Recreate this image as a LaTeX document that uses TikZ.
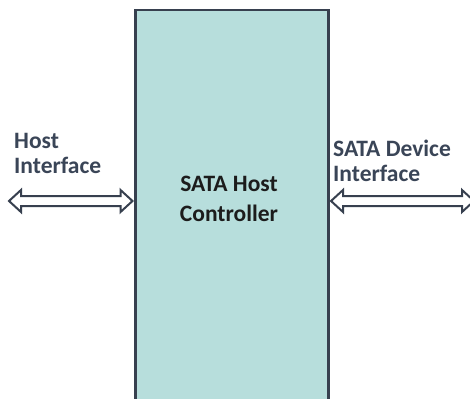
\documentclass[tikz,border=0pt]{standalone}
\usepackage{fontspec}
\setmainfont{Carlito}
\usetikzlibrary{calc}
\definecolor{boxfill}{HTML}{B7DEDC}
\definecolor{edge}{HTML}{37404F}
\definecolor{labeltext}{HTML}{3A4557}
\definecolor{ctrltext}{HTML}{1C1C1C}
\tikzset{
  ctrlbox/.style={draw=edge, line width=2.5pt, fill=boxfill, minimum width=193pt, minimum height=420pt, anchor=north west, inner sep=0pt},
  sidelabel/.style={font=\bfseries\fontsize{23.5}{25}\selectfont, text=labeltext, align=left, anchor=base west, inner sep=0pt},
  ctrllabel/.style={font=\bfseries\fontsize{23.5}{30}\selectfont, text=ctrltext, align=center, anchor=base, inner sep=0pt},
  arrowline/.style={draw=edge, line width=2pt, fill=white, line join=miter}
}
\newcommand\hollowarrow[2]{%
  \path[arrowline] let \p1=(#1), \p2=(#2) in
    (\x1,\y1) -- (\x1+12pt,\y1+11pt) -- (\x1+12pt,\y1+5pt) -- (\x2-12pt,\y2+5pt)
    -- (\x2-12pt,\y2+11pt) -- (\x2,\y2) -- (\x2-12pt,\y2-11pt) -- (\x2-12pt,\y2-5pt)
    -- (\x1+12pt,\y1-5pt) -- (\x1+12pt,\y1-11pt) -- cycle;}
\begin{document}
\begin{tikzpicture}[x=1pt,y=-1pt]
  \clip (0,0) rectangle (470,398);
  \fill[white] (0,0) rectangle (470,398);
  \node[ctrlbox] (ctrl) at (134,9) {};
  \node[ctrllabel] (ctrltxt) at (229,221) {SATA Host\\Controller};
  \node[sidelabel] (hostlbl) at (14,173) {Host\\Interface};
  \node[sidelabel] (devlbl) at (333,181) {SATA Device\\Interface};
  \coordinate (hostend) at (9,201);
  \coordinate (devend) at (474,201);
  \coordinate (ctrlL) at (ctrl.west |- hostend);
  \coordinate (ctrlR) at (ctrl.east |- devend);
  \hollowarrow{hostend}{$(ctrlL)+(-1.5,0)$}
  \hollowarrow{$(ctrlR)+(1.5,0)$}{devend}
\end{tikzpicture}
\end{document}
